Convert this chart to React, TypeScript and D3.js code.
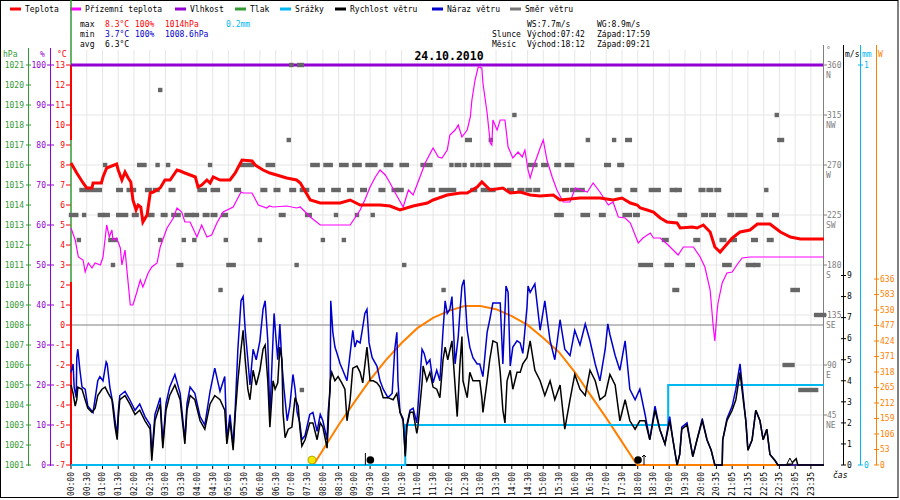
import * as d3 from 'd3';

// x values are minutes from the first sample (one sample every 5 min)
const timeLabels = [
  '00:00', '00:30', '01:00', '01:30', '02:00', '02:30', '03:00', '03:30', '04:00', '04:30',
  '05:00', '05:30', '06:00', '06:30', '07:00', '07:30', '08:00', '08:30', '09:00', '09:30',
  '10:00', '10:30', '11:00', '11:30', '12:00', '12:30', '13:00', '13:30', '14:00', '14:30',
  '15:00', '15:30', '16:00', '16:30', '17:00', '17:30', '18:00', '18:30', '19:00', '19:30',
  '20:00', '20:35', '21:05', '21:35', '22:05', '22:35', '23:05', '23:35',
];

const legendLabels = ['Teplota', 'Přízemní teplota', 'Vlhkost', 'Tlak', 'Srážky', 'Rychlost větru', 'Náraz větru', 'Směr větru'];

const temperature: [number, number][] = [
  [0, 8.1], [11, 7.6], [23, 7.1], [30, 6.85], [40, 6.85], [42, 7.1], [58, 7.1], [61, 7.4], [68, 7.85], [87, 8.05],
  [90, 7.75], [97, 7.25], [103, 7.65], [109, 7.35], [114, 7.15], [118, 6.25], [124, 5.75], [128, 6.0], [133, 5.9], [137, 5.15],
  [145, 5.5], [151, 6.6], [157, 6.65], [170, 6.85], [179, 7.25], [189, 7.25], [202, 7.75], [208, 7.7], [217, 7.6], [237, 7.4],
  [242, 6.9], [249, 7.0], [259, 7.25], [265, 7.1], [271, 7.4], [284, 7.25], [303, 7.25], [313, 7.6], [322, 8.05], [326, 8.25],
  [345, 8.2], [351, 8.0], [366, 7.75], [379, 7.6], [392, 7.5], [411, 7.35], [430, 7.25], [437, 7.1], [456, 6.25], [475, 6.1],
  [513, 6.1], [532, 6.25], [551, 6.0], [589, 6.0], [608, 5.95], [627, 5.75], [652, 5.95], [679, 6.1], [690, 6.25], [717, 6.5],
  [742, 6.6], [755, 6.6], [774, 6.9], [783, 7.15], [793, 6.9], [799, 6.75], [823, 6.85], [837, 6.6], [856, 6.65], [875, 6.5],
  [894, 6.45], [919, 6.5], [932, 6.25], [970, 6.35], [1008, 6.35], [1033, 6.25], [1050, 6.35], [1066, 6.1], [1079, 6.0], [1085, 5.85],
  [1098, 5.75], [1110, 5.65], [1123, 5.35], [1136, 5.15], [1155, 5.1], [1161, 4.85], [1184, 4.9], [1193, 4.85], [1205, 5.0], [1218, 4.65],
  [1227, 3.9], [1237, 3.65], [1247, 3.95], [1260, 4.35], [1275, 4.65], [1294, 4.75], [1308, 5.05], [1332, 5.05], [1352, 4.65], [1371, 4.4],
  [1390, 4.3], [1435, 4.3],
];

const feelsLike: [number, number][] = [
  [0, 4.85], [8, 4.25], [14, 3.4], [23, 3.25], [27, 2.65], [33, 3.1], [40, 2.85], [46, 3.1], [56, 3.0], [61, 3.4],
  [68, 5.0], [73, 4.4], [78, 4.75], [80, 4.25], [87, 4.35], [94, 3.85], [97, 3.0], [103, 3.75], [106, 2.9], [113, 1.0],
  [118, 1.0], [125, 1.6], [132, 2.25], [137, 1.9], [147, 2.6], [154, 2.9], [164, 3.1], [170, 3.9], [183, 4.85], [195, 5.35],
  [202, 5.85], [211, 5.65], [217, 5.15], [227, 5.15], [240, 4.4], [249, 5.0], [259, 4.4], [268, 4.5], [278, 5.1], [290, 5.65],
  [309, 5.9], [324, 6.65], [328, 6.6], [345, 6.6], [357, 6.0], [373, 5.85], [378, 5.95], [385, 5.9], [411, 5.95], [430, 5.85],
  [437, 5.9], [456, 5.4], [475, 5.0], [503, 5.0], [532, 5.0], [551, 5.75], [560, 6.25], [570, 6.9], [580, 7.4], [589, 7.75],
  [599, 7.5], [608, 7.1], [618, 6.6], [633, 5.9], [643, 6.75], [652, 6.5], [665, 7.4], [675, 8.1], [690, 8.85], [700, 8.4],
  [707, 8.35], [717, 8.75], [722, 9.5], [732, 9.75], [738, 10.0], [745, 9.4], [755, 9.75], [761, 10.4], [764, 11.25], [770, 12.25],
  [776, 12.9], [783, 12.85], [785, 12.1], [793, 10.6], [799, 9.1], [802, 9.0], [804, 10.25], [812, 9.75], [818, 10.25], [827, 10.25],
  [833, 8.9], [842, 8.35], [852, 8.65], [860, 8.4], [865, 8.75], [871, 7.75], [875, 7.35], [881, 7.9], [888, 8.4], [894, 8.85],
  [900, 9.25], [907, 8.25], [917, 7.4], [926, 6.75], [938, 6.15], [951, 6.15], [961, 6.85], [984, 6.65], [995, 7.1], [1008, 6.65],
  [1024, 6.0], [1033, 6.15], [1043, 5.4], [1056, 5.35], [1066, 5.1], [1081, 4.1], [1090, 4.35], [1104, 4.6], [1110, 4.35], [1123, 4.35],
  [1138, 4.0], [1157, 3.5], [1167, 3.9], [1186, 3.9], [1199, 3.4], [1208, 2.9], [1218, 1.75], [1224, -0.1], [1227, -0.8], [1231, 0.6],
  [1233, 1.1], [1241, 2.1], [1250, 2.6], [1260, 2.65], [1269, 3.0], [1279, 3.35], [1294, 3.4], [1435, 3.4],
];

const windSpeed: [number, number][] = [
  [0, 3.8], [4, 3.4], [8, 2.8], [11, 3.1], [13, 3.7], [21, 3.6], [27, 3.1], [32, 2.7], [40, 2.5], [46, 2.7],
  [51, 3.3], [59, 3.6], [65, 3.7], [71, 3.4], [78, 3.1], [84, 1.8], [88, 1.2], [90, 2.2], [93, 3.1], [103, 3.3],
  [112, 2.9], [122, 2.4], [131, 2.6], [141, 2.1], [151, 1.7], [154, 0.2], [160, 2.1], [170, 2.9], [175, 0.8], [181, 2.6],
  [188, 3.3], [198, 3.8], [208, 3.1], [217, 1.0], [221, 2.6], [227, 3.3], [236, 3.1], [246, 2.1], [255, 1.7], [265, 2.9],
  [274, 3.3], [284, 3.1], [293, 2.6], [297, 1.0], [303, 2.1], [309, 0.7], [313, 2.4], [318, 4.0], [324, 5.5], [328, 6.4],
  [332, 5.0], [337, 3.6], [341, 3.1], [347, 4.5], [353, 3.8], [360, 4.5], [366, 5.5], [370, 5.7], [375, 4.0], [379, 1.8],
  [385, 4.0], [389, 3.6], [394, 3.9], [398, 5.6], [402, 5.0], [404, 2.5], [408, 1.3], [414, 1.7], [421, 1.8], [427, 3.2],
  [433, 2.8], [436, 1.8], [440, 0.9], [446, 1.2], [455, 2.0], [461, 2.0], [469, 1.2], [475, 2.0], [480, 1.8], [488, 0.8],
  [490, 1.8], [494, 4.0], [497, 4.4], [503, 4.0], [509, 4.2], [516, 3.9], [522, 3.6], [526, 2.1], [532, 3.1], [537, 4.6],
  [545, 4.7], [551, 4.4], [556, 3.9], [564, 5.6], [570, 4.0], [576, 4.0], [583, 3.9], [589, 3.7], [595, 3.2], [604, 3.2],
  [614, 3.1], [621, 3.4], [627, 2.5], [633, 2.1], [637, 0.4], [640, 1.8], [646, 2.5], [652, 2.5], [659, 1.5], [661, 1.8],
  [669, 3.9], [671, 4.7], [678, 4.0], [684, 4.4], [690, 3.7], [697, 3.6], [703, 3.2], [709, 5.0], [713, 5.6], [718, 5.0],
  [726, 5.9], [736, 2.3], [741, 4.7], [745, 6.1], [747, 4.0], [755, 3.2], [760, 4.4], [766, 4.0], [774, 4.0], [779, 4.0],
  [783, 3.2], [785, 2.5], [793, 4.0], [798, 5.0], [804, 5.9], [812, 5.8], [818, 4.4], [823, 2.6], [827, 2.0], [831, 4.0],
  [837, 4.5], [842, 3.6], [850, 4.4], [856, 4.4], [861, 4.8], [869, 5.1], [875, 5.9], [884, 4.5], [894, 4.0], [903, 3.3],
  [913, 4.0], [922, 3.1], [932, 3.8], [941, 1.7], [951, 3.1], [960, 4.3], [970, 3.6], [980, 3.3], [989, 4.5], [999, 4.0],
  [1008, 3.1], [1018, 3.3], [1027, 4.3], [1037, 3.8], [1046, 2.1], [1056, 3.1], [1065, 2.1], [1075, 1.7], [1084, 2.1], [1094, 2.1],
  [1103, 1.2], [1113, 2.6], [1122, 1.7], [1132, 1.0], [1141, 2.1], [1147, 1.2], [1155, 0], [1160, 0.5], [1164, 1.7], [1174, 1.9],
  [1185, 0.4], [1193, 1.2], [1203, 2.1], [1212, 1.2], [1220, 0.7], [1227, 0], [1241, 0], [1242, 1.2], [1250, 2.1], [1260, 2.6],
  [1267, 3.1], [1275, 4.4], [1281, 3.1], [1286, 2.1], [1290, 0.7], [1298, 1.2], [1305, 2.6], [1313, 2.1], [1319, 1.2], [1326, 1.7],
  [1332, 0.5], [1342, 0.2], [1347, 0], [1370, 0], [1374, 0.1], [1382, 0.3], [1385, 0], [1435, 0],
];

const windGust: [number, number][] = [
  [0, 4.4], [4, 4.8], [6, 3.7], [10, 3.2], [11, 5.1], [13, 5.5], [17, 4.5], [21, 3.7], [27, 3.6], [32, 2.8],
  [42, 2.5], [51, 4.0], [55, 4.2], [61, 4.0], [67, 4.9], [69, 4.8], [74, 3.7], [80, 2.9], [84, 2.1], [88, 1.4],
  [90, 2.5], [93, 3.3], [103, 3.5], [112, 3.1], [122, 2.6], [131, 2.9], [141, 2.3], [151, 1.9], [154, 0.5], [160, 2.4],
  [170, 3.2], [175, 1.0], [181, 2.9], [188, 3.7], [198, 4.3], [208, 3.4], [217, 1.2], [221, 2.9], [227, 3.7], [236, 3.4],
  [246, 2.3], [255, 1.9], [265, 3.5], [274, 4.6], [284, 3.5], [293, 4.2], [297, 1.2], [303, 2.4], [309, 0.9], [313, 2.7],
  [318, 5.5], [324, 7.8], [328, 8.0], [332, 6.4], [337, 5.0], [341, 3.8], [347, 5.5], [353, 5.0], [360, 5.9], [366, 7.4],
  [370, 7.8], [375, 5.9], [379, 2.3], [383, 4.8], [387, 7.2], [391, 5.9], [394, 5.0], [398, 6.7], [402, 4.8], [406, 3.6],
  [412, 2.1], [417, 2.8], [423, 4.3], [427, 3.6], [431, 2.5], [436, 2.0], [440, 1.2], [446, 1.4], [455, 2.4], [461, 2.5],
  [469, 1.6], [475, 2.4], [480, 2.1], [488, 1.2], [490, 2.5], [494, 3.6], [495, 7.8], [499, 6.3], [503, 5.6], [507, 5.3],
  [513, 4.8], [518, 4.5], [526, 4.0], [532, 5.3], [537, 6.4], [541, 5.6], [545, 5.9], [551, 5.8], [555, 6.4], [560, 7.2],
  [564, 7.4], [568, 5.8], [574, 5.1], [583, 4.7], [589, 4.0], [595, 3.6], [604, 3.2], [612, 3.4], [617, 5.5], [621, 6.3],
  [623, 4.0], [627, 2.5], [633, 2.2], [637, 0.5], [640, 1.9], [646, 2.6], [652, 2.7], [659, 2.0], [669, 5.5], [673, 5.3],
  [678, 4.8], [684, 5.0], [690, 3.9], [697, 4.5], [703, 4.0], [709, 6.4], [713, 7.8], [717, 7.2], [722, 7.4], [726, 8.0],
  [732, 4.8], [738, 6.1], [741, 7.2], [745, 8.5], [749, 8.8], [755, 6.4], [760, 5.6], [766, 5.1], [774, 4.8], [779, 4.8],
  [785, 4.2], [793, 6.3], [798, 6.9], [804, 7.7], [812, 7.7], [818, 7.7], [823, 4.8], [829, 8.5], [833, 8.2], [837, 4.7],
  [842, 5.6], [850, 5.9], [856, 5.8], [861, 5.3], [869, 7.5], [871, 8.5], [875, 8.2], [884, 8.6], [894, 6.4], [903, 7.8],
  [913, 5.9], [922, 5.0], [932, 6.9], [941, 5.5], [951, 5.2], [960, 6.4], [970, 5.7], [980, 6.7], [989, 5.9], [999, 4.8],
  [1008, 4.0], [1018, 5.5], [1023, 6.7], [1027, 6.2], [1037, 5.2], [1046, 4.5], [1056, 5.9], [1065, 3.6], [1075, 3.1], [1084, 3.6],
  [1094, 2.4], [1103, 1.2], [1113, 2.8], [1122, 1.7], [1132, 1.0], [1141, 2.3], [1147, 1.2], [1155, 0], [1160, 0.5], [1164, 1.8],
  [1174, 2.0], [1185, 0.4], [1193, 1.2], [1203, 2.2], [1212, 1.2], [1220, 0.7], [1227, 0], [1241, 0], [1242, 1.2], [1250, 2.2],
  [1260, 2.8], [1267, 3.6], [1275, 4.8], [1281, 3.3], [1286, 2.1], [1290, 0.7], [1298, 1.2], [1305, 2.6], [1313, 2.1], [1319, 1.2],
  [1326, 1.7], [1332, 0.5], [1342, 0.2], [1347, 0], [1435, 0],
];

// solar radiation, W/m2 (sunrise 07:42, sunset 17:59)
const solar: [number, number][] = [
  [462, 0], [480, 51], [510, 137], [540, 215], [570, 291], [600, 359], [630, 417], [660, 468], [690, 503], [720, 527],
  [750, 544], [780, 544], [810, 533], [840, 509], [870, 479], [900, 434], [930, 386], [960, 318], [990, 239], [1020, 161],
  [1050, 79], [1079, 0], [1435, 0],
];

// cumulative rain, mm
const rain: [number, number][] = [[0, 0], [637, 0.1], [1138, 0.2], [1435, 0.2]];

// wind direction: runs of samples [from min, to min, degrees]
const windDir: [number, number, number][] = [
  [420, 420, 360], [435, 440, 360],
  [170, 170, 337.5],
  [845, 845, 315], [1345, 1345, 315],
  [415, 415, 292.5], [755, 760, 292.5], [800, 800, 292.5], [985, 985, 292.5], [1035, 1035, 292.5], [1060, 1065, 292.5], [1350, 1355, 292.5],
  [65, 65, 270], [130, 140, 270], [165, 165, 270], [185, 185, 270], [265, 265, 270], [325, 345, 270], [375, 385, 270], [460, 470, 270],
  [485, 495, 270], [515, 525, 270], [540, 550, 270], [565, 580, 270], [600, 610, 270], [630, 640, 270], [670, 685, 270], [725, 725, 270],
  [735, 740, 270], [750, 750, 270], [765, 765, 270], [775, 780, 270], [790, 795, 270], [810, 835, 270], [875, 885, 270], [900, 905, 270],
  [925, 930, 270], [945, 955, 270], [1020, 1025, 270], [1045, 1050, 270],
  [20, 55, 247.5], [90, 95, 247.5], [110, 120, 247.5], [145, 150, 247.5], [160, 165, 247.5], [190, 195, 247.5], [245, 255, 247.5],
  [270, 280, 247.5], [315, 320, 247.5], [365, 370, 247.5], [390, 395, 247.5], [420, 425, 247.5], [440, 450, 247.5], [475, 480, 247.5],
  [500, 510, 247.5], [530, 535, 247.5], [555, 560, 247.5], [590, 595, 247.5], [615, 620, 247.5], [625, 630, 247.5], [685, 690, 247.5],
  [705, 730, 247.5], [765, 770, 247.5], [785, 805, 247.5], [835, 840, 247.5], [855, 860, 247.5], [870, 875, 247.5], [885, 890, 247.5],
  [940, 945, 247.5], [955, 975, 247.5], [1040, 1045, 247.5], [1070, 1075, 247.5], [1105, 1120, 247.5], [1145, 1150, 247.5],
  [1155, 1160, 247.5], [1200, 1205, 247.5], [1215, 1220, 247.5], [1230, 1235, 247.5], [1325, 1325, 247.5],
  [0, 10, 225], [25, 25, 225], [55, 60, 225], [65, 70, 225], [90, 105, 225], [120, 125, 225], [150, 155, 225], [175, 180, 225],
  [195, 205, 225], [220, 230, 225], [235, 240, 225], [255, 260, 225], [270, 275, 225], [290, 295, 225], [400, 405, 225], [450, 455, 225],
  [505, 505, 225], [545, 545, 225], [575, 575, 225], [925, 935, 225], [975, 985, 225], [1010, 1015, 225], [1055, 1065, 225],
  [1075, 1080, 225], [1160, 1170, 225], [1205, 1210, 225], [1220, 1225, 225], [1255, 1260, 225], [1270, 1285, 225], [1310, 1315, 225],
  [1340, 1345, 225],
  [15, 15, 202.5], [75, 85, 202.5], [170, 170, 202.5], [215, 215, 202.5], [235, 235, 202.5], [295, 295, 202.5], [360, 360, 202.5],
  [480, 480, 202.5], [520, 520, 202.5], [1130, 1135, 202.5], [1190, 1195, 202.5], [1240, 1245, 202.5], [1260, 1265, 202.5],
  [1300, 1305, 202.5], [1330, 1335, 202.5],
  [80, 80, 180], [205, 210, 180], [300, 310, 180], [430, 430, 180], [635, 635, 180], [1085, 1105, 180], [1135, 1145, 180],
  [1175, 1185, 180], [1245, 1255, 180], [1290, 1300, 180], [1305, 1310, 180],
  [285, 285, 157.5], [710, 710, 157.5], [1150, 1155, 157.5], [1375, 1385, 157.5],
  [1420, 1435, 135],
  [1360, 1375, 90],
  [440, 440, 67.5], [1390, 1420, 67.5],
];

const sunRise = 462;
const moonSet = 561;
const moonRise = 1092;

const hpaTicks = d3.range(1001, 1022);
const pctTicks = d3.range(0, 101, 10);
const tempTicks = d3.range(-7, 14);
const dirTicks = [360, 315, 270, 225, 180, 135, 90, 45];
const dirNames = ['N', 'NW', 'W', 'SW', 'S', 'SE', 'E', 'NE'];
const msTicks = d3.range(0, 10);
const wattTicks = d3.range(0, 637, 53);

const C = {
  temp: '#ff0000', feels: '#ff00ff', hum: '#9400d3', press: '#339933', rain: '#00b8f0',
  wind: '#000000', gust: '#0000cc', dir: '#666666', sun: '#ff8000', grid: '#e6e6e6',
};
const legendColors = [C.temp, C.feels, C.hum, C.press, C.rain, C.wind, C.gust, '#777777'];
const legendX = [25, 85, 190, 250, 295, 350, 447, 525];

const FONT = 'DejaVu Sans Mono, monospace';
const L = 71, R = 824, T = 65, B = 465;

export default function App() {
  const x = d3.scaleLinear().domain([0, 1435]).range([L, R]);
  const yT = d3.scaleLinear().domain([-7, 13]).range([B, T]);
  const yP = d3.scaleLinear().domain([1001, 1021]).range([B, T]);
  const yPct = d3.scaleLinear().domain([0, 100]).range([B, T]);
  const yDeg = d3.scaleLinear().domain([0, 360]).range([B, T]);
  const yMs = d3.scaleLinear().domain([0, 19]).range([B, T]);
  const yMm = d3.scaleLinear().domain([0, 1]).range([B, T]);
  const yW = d3.scaleLinear().domain([0, 1368]).range([B, T]);

  const path = (ys: d3.ScaleLinear<number, number>, curve = d3.curveLinear) =>
    d3.line<[number, number]>().x(d => x(d[0])).y(d => ys(d[1])).curve(curve);

  const tickMins = timeLabels.map((_, i) => i * 30);
  const gridDeg = [315, 270, 225, 180, 135, 90, 45];

  return (
    <div style={{ position: 'absolute', left: 0, top: 0 }}>
      <svg width={900} height={500} style={{ display: 'block', background: '#fff' }} fontFamily={FONT} fontSize={8}>
        <rect x={0.5} y={0.5} width={897.5} height={497} fill="#fff" stroke="#000" />

        {/* grid */}
        {tickMins.slice(1).map(m => (
          <line key={m} x1={x(m)} x2={x(m)} y1={50} y2={B} stroke={C.grid} />
        ))}
        {gridDeg.map(d => (
          <line key={d} x1={L} x2={823} y1={yDeg(d)} y2={yDeg(d)} stroke={C.grid} />
        ))}
        <line x1={L} x2={823} y1={yT(0)} y2={yT(0)} stroke="#808080" />

        {/* legend */}
        {legendLabels.map((lab, i) => (
          <g key={lab}>
            <line x1={legendX[i] - 15} x2={legendX[i] - 4} y1={9} y2={9} stroke={legendColors[i]} strokeWidth={3} />
            <text x={legendX[i]} y={12} fill="#000">{lab}</text>
          </g>
        ))}

        {/* stats */}
        <text x={80} y={27}>max</text>
        <text x={105} y={27} fill={C.temp}>8.3°C</text>
        <text x={135} y={27} fill={C.temp}>100%</text>
        <text x={165} y={27} fill={C.temp}>1014hPa</text>
        <text x={226} y={27} fill={C.rain}>0.2mm</text>
        <text x={80} y={37}>min</text>
        <text x={105} y={37} fill="#0000cc">3.7°C</text>
        <text x={135} y={37} fill="#0000cc">100%</text>
        <text x={165} y={37} fill="#0000cc">1008.6hPa</text>
        <text x={80} y={47}>avg</text>
        <text x={105} y={47}>6.3°C</text>
        <text x={527} y={27}>WS:7.7m/s</text>
        <text x={597} y={27}>WG:8.9m/s</text>
        <text x={492} y={37}>Slunce</text>
        <text x={527} y={37}>Východ:07:42</text>
        <text x={597} y={37}>Západ:17:59</text>
        <text x={492} y={47}>Měsíc</text>
        <text x={527} y={47}>Východ:18:12</text>
        <text x={597} y={47}>Západ:09:21</text>
        <text x={449} y={60} textAnchor="middle" fontSize={11.5} fontWeight="bold">24.10.2010</text>

        {/* left axes */}
        <text x={3} y={57} fill={C.press}>hPa</text>
        <text x={40} y={57} fill={C.hum}>%</text>
        <text x={57} y={57} fill={C.temp}>°C</text>
        <line x1={28.5} x2={28.5} y1={48} y2={466} stroke={C.press} />
        <line x1={50.5} x2={50.5} y1={48} y2={466} stroke={C.hum} />
        {hpaTicks.map(v => (
          <g key={v}>
            <line x1={26} x2={31} y1={yP(v)} y2={yP(v)} stroke={C.press} />
            <text x={24} y={yP(v)} dy="0.35em" textAnchor="end" fill={C.press}>{v}</text>
          </g>
        ))}
        {pctTicks.map(v => (
          <g key={v}>
            <line x1={47} x2={54} y1={yPct(v)} y2={yPct(v)} stroke={C.hum} />
            <text x={46} y={yPct(v)} dy="0.35em" textAnchor="end" fill={C.hum}>{v}</text>
          </g>
        ))}
        {tempTicks.map(v => (
          <g key={v}>
            <line x1={66} x2={71} y1={yT(v)} y2={yT(v)} stroke={C.temp} />
            <text x={65} y={yT(v)} dy="0.35em" textAnchor="end" fill={C.temp}>{v}</text>
          </g>
        ))}
        <line x1={71} x2={71} y1={0} y2={B} stroke={C.press} strokeWidth={1.5} />
        <line x1={71} x2={71} y1={yT(13)} y2={yT(9.25)} stroke={C.temp} strokeWidth={2} />
        <line x1={71} x2={71} y1={yT(2.15)} y2={B} stroke={C.temp} strokeWidth={2} />

        {/* right axes */}
        <line x1={823.5} x2={823.5} y1={45} y2={B} stroke="#808080" />
        <text x={826} y={53} fill="#808080">°</text>
        {dirTicks.map((d, i) => (
          <g key={d} fill="#808080">
            <line x1={823} x2={827} y1={yDeg(d)} y2={yDeg(d)} stroke="#808080" />
            <text x={827} y={yDeg(d)} dy="0.35em">{d}</text>
            <text x={826} y={yDeg(d) + 10} dy="0.35em">{dirNames[i]}</text>
          </g>
        ))}
        <line x1={843.5} x2={843.5} y1={45} y2={B} stroke="#000" />
        <text x={845} y={57}>m/s</text>
        {msTicks.map(v => (
          <g key={v}>
            <line x1={841} x2={846} y1={yMs(v)} y2={yMs(v)} stroke="#000" />
            <text x={847} y={yMs(v)} dy="0.35em">{v}</text>
          </g>
        ))}
        <line x1={860.5} x2={860.5} y1={45} y2={B} stroke={C.rain} />
        <text x={862} y={57} fill={C.rain}>mm</text>
        {[0, 1].map(v => (
          <g key={v}>
            <line x1={858} x2={863} y1={yMm(v)} y2={yMm(v)} stroke={C.rain} />
            <text x={864} y={yMm(v)} dy="0.35em" fill={C.rain}>{v}</text>
          </g>
        ))}
        <line x1={876.5} x2={876.5} y1={45} y2={B} stroke={C.sun} />
        <text x={878} y={57} fill={C.sun}>W</text>
        {wattTicks.map(v => (
          <g key={v}>
            <line x1={874} x2={879} y1={yW(v)} y2={yW(v)} stroke={C.sun} />
            <text x={880} y={yW(v)} dy="0.35em" fill={C.sun}>{v}</text>
          </g>
        ))}

        {/* x axis */}
        <line x1={L} x2={823} y1={B} y2={B} stroke="#000" strokeWidth={2} />
        {tickMins.map((m, i) => (
          <g key={m}>
            <line x1={x(m)} x2={x(m)} y1={B} y2={B + 4} stroke="#000" />
            <text transform={`translate(${x(m) + 3},472) rotate(-90)`} textAnchor="end">{timeLabels[i]}</text>
          </g>
        ))}
        <text x={833} y={478} fontStyle="italic">čas</text>

        {/* humidity */}
        <line x1={L} x2={823} y1={yPct(100)} y2={yPct(100)} stroke={C.hum} strokeWidth={3} />

        {/* wind direction */}
        {windDir.map(([a, b, d], i) => (
          <rect key={i} x={x(a) - 2.2} y={yDeg(d) - 2.2} width={x(b) - x(a) + 4.4} height={4.4} fill={C.dir} />
        ))}

        {/* solar, rain */}
        <path d={path(yW)(solar) ?? ''} fill="none" stroke={C.sun} strokeWidth={2} />
        <path d={path(yMm, d3.curveStepAfter)(rain) ?? ''} fill="none" stroke={C.rain} strokeWidth={2} />

        {/* wind */}
        <path d={path(yMs)(windGust) ?? ''} fill="none" stroke={C.gust} strokeWidth={1.5} />
        <path d={path(yMs)(windSpeed) ?? ''} fill="none" stroke={C.wind} strokeWidth={1.5} />

        {/* temperatures */}
        <path d={path(yT)(feelsLike) ?? ''} fill="none" stroke={C.feels} strokeWidth={1.2} />
        <path d={path(yT)(temperature) ?? ''} fill="none" stroke={C.temp} strokeWidth={3} />

        {/* sun and moon markers */}
        <circle cx={x(sunRise) - 1.5} cy={460} r={4} fill="#f5e800" stroke="#9a9a00" strokeWidth={0.8} />
        <line x1={x(moonSet)} x2={x(moonSet)} y1={453} y2={B} stroke="#000" />
        <circle cx={x(moonSet) + 5} cy={460} r={3.8} fill="#000" />
        <circle cx={x(moonRise) - 6} cy={460} r={3.8} fill="#000" />
        <path d={`M${x(moonRise)},${B} V455 M${x(moonRise) - 2},457 L${x(moonRise)},455 L${x(moonRise) + 2},457`} fill="none" stroke="#000" />
        <path d={`M${x(1370) - 3},${B - 1} L${x(1370)},${B - 7} L${x(1370) + 3},${B - 1} Z`} fill="#fff" stroke="#000" />
      </svg>
    </div>
  );
}
